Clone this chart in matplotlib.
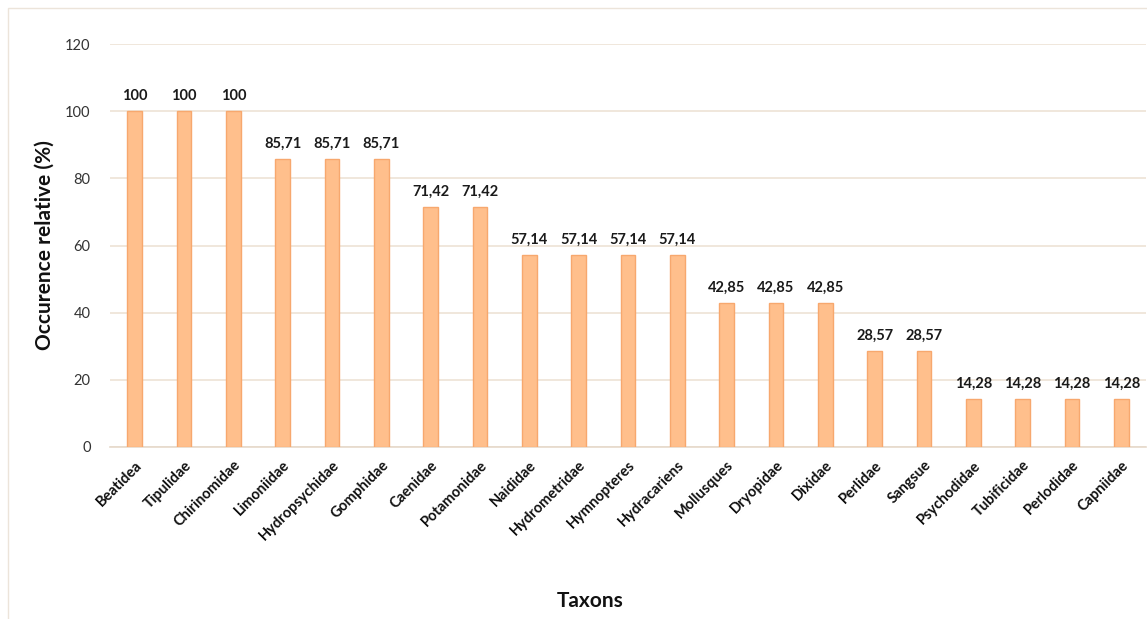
import matplotlib.pyplot as plt
import matplotlib.patches as mpatches
import numpy as np

taxa = ['Beatidea', 'Tipulidae', 'Chirinomidae', 'Limoniidae', 'Hydropsychidae',
        'Gomphidae', 'Caenidae', 'Potamonidae', 'Naididae', 'Hydrometridae',
        'Hymnopteres', 'Hydracariens', 'Mollusques', 'Dryopidae', 'Dixidae',
        'Perlidae', 'Sangsue', 'Psychodidae', 'Tubificidae', 'Perlodidae', 'Capniidae']
occurrence = [100, 100, 100, 85.71, 85.71, 85.71, 71.42, 71.42, 57.14, 57.14,
              57.14, 57.14, 42.85, 42.85, 42.85, 28.57, 28.57, 14.28, 14.28, 14.28, 14.28]
value_labels = ['100', '100', '100', '85,71', '85,71', '85,71', '71,42', '71,42',
                '57,14', '57,14', '57,14', '57,14', '42,85', '42,85', '42,85',
                '28,57', '28,57', '14,28', '14,28', '14,28', '14,28']
yticks = [0, 20, 40, 60, 80, 100, 120]

plt.rcParams['font.family'] = ['Lato', 'DejaVu Sans']

fig = plt.figure(figsize=(11.47, 6.19), dpi=100)
# light chart-area border
fig.patches.append(mpatches.Rectangle((8 / 1147, -0.01), 1.0, 1 - 8 / 619 + 0.01,
                                      transform=fig.transFigure, fill=False,
                                      edgecolor='#ECE4DA', linewidth=1.0))

ax = fig.add_axes([110 / 1147, 172 / 619, 1036 / 1147, 403 / 619])
x = np.arange(len(taxa))
ax.bar(x, occurrence, width=0.3, color='#FFBF8C', edgecolor='#F7A86E', linewidth=1.0, zorder=3)

for xi, v, lab in zip(x, occurrence, value_labels):
    ax.text(xi, v + 2.5, lab, ha='center', va='bottom', fontsize=10.5,
            fontweight='bold', color='#1a1a1a')

ax.set_xlim(-0.5, len(taxa) - 0.5)
ax.set_ylim(0, 120)
ax.set_yticks(yticks)
ax.set_yticklabels([str(t) for t in yticks], fontsize=10.5, color='#333333')
ax.set_xticks(x)
ax.set_xticklabels(taxa, rotation=45, ha='right', rotation_mode='anchor',
                   fontsize=10.5, fontweight='bold', color='#111111')
ax.tick_params(axis='both', length=0)
ax.tick_params(axis='y', pad=14)
ax.tick_params(axis='x', pad=8)

ax.grid(axis='y', color='#EDE3D6', linewidth=1.2, zorder=0)
for s in ['top', 'right', 'left']:
    ax.spines[s].set_visible(False)
ax.spines['bottom'].set_color('#E6D9CB')
ax.spines['bottom'].set_linewidth(1.2)

fig.text(45 / 1147, 1 - 245 / 619, 'Occurence relative (%)', rotation=90,
         ha='center', va='center', fontsize=15, fontweight='bold', color='#111111')
fig.text(590 / 1147, 1 - 601 / 619, 'Taxons', ha='center', va='center',
         fontsize=15, fontweight='bold', color='#111111')

fig.savefig('out.png', dpi=100)
